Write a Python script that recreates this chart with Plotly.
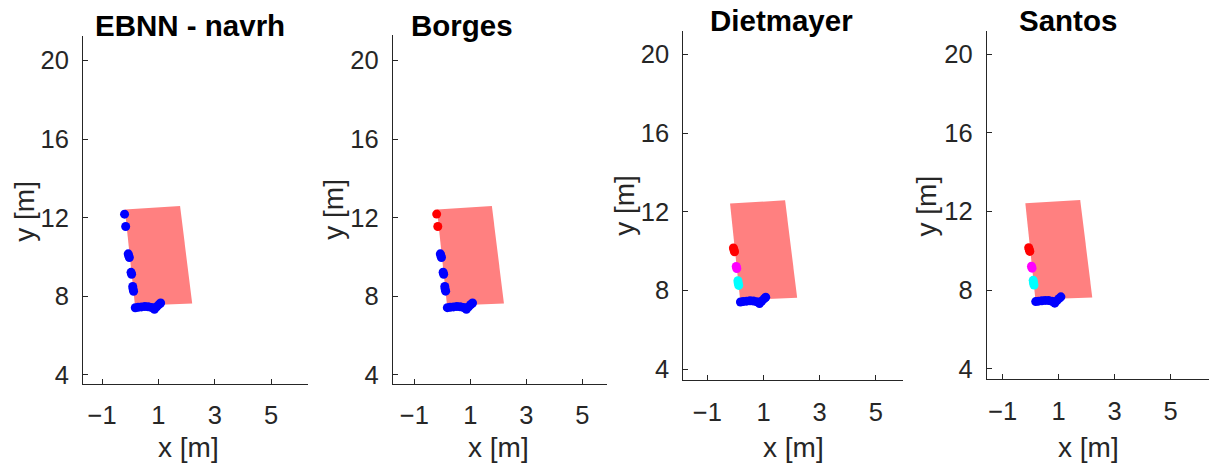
import plotly.graph_objects as go

W, H = 1214, 469

# ---- data ----
titles = ["EBNN - navrh", "Borges", "Dietmayer", "Santos"]
x_ticks = [-1, 1, 3, 5]
y_ticks = [4, 8, 12, 16, 20]

# ground-truth box (corners)
rect_x = [-0.19, 1.77, 2.20, 0.17]
rect_y = [12.42, 12.59, 7.63, 7.52]

# laser scan points
scan_x = [-0.20, -0.16, -0.07, -0.05, -0.03, 0.03, 0.05, 0.09, 0.10, 0.12,
          0.18, 0.28, 0.40, 0.52, 0.64, 0.76, 0.86, 0.94, 1.02, 1.08]
scan_y = [12.18, 11.55, 10.16, 10.06, 9.97, 9.22, 9.12, 8.50, 8.38, 8.26,
          7.42, 7.44, 7.46, 7.48, 7.47, 7.43, 7.34, 7.47, 7.58, 7.66]

# cluster colour of each scan point per method (None = not shown)
ebnn_cluster = ["blue", "blue", "blue", "blue", "blue", "blue", "blue", "blue", "blue", "blue",
                "blue", "blue", "blue", "blue", "blue", "blue", "blue", "blue", "blue", "blue"]
borges_cluster = ["red", "red", "blue", "blue", "blue", "blue", "blue", "blue", "blue", "blue",
                  "blue", "blue", "blue", "blue", "blue", "blue", "blue", "blue", "blue", "blue"]
dietmayer_cluster = [None, None, "red", "red", "red", "magenta", "magenta", "cyan", "cyan", "cyan",
                     "blue", "blue", "blue", "blue", "blue", "blue", "blue", "blue", "blue", "blue"]
santos_cluster = [None, None, "red", "red", "red", "magenta", "magenta", "cyan", "cyan", "cyan",
                  "blue", "blue", "blue", "blue", "blue", "blue", "blue", "blue", "blue", "blue"]
clusters = [ebnn_cluster, borges_cluster, dietmayer_cluster, santos_cluster]

# ---- layout (pixel geometry of each axes box) ----
boxes = [  # left, right, top, bottom (px)
    (83, 308, 36, 388),
    (392.7, 607.3, 35, 387.7),
    (683.3, 903.3, 31.7, 384),
    (986.7, 1209.3, 31, 383.3),
]
x_ranges = [(-1.675, 6.31), (-1.77, 5.89), (-1.855, 5.98), (-1.57, 6.38)]
y_ranges = [(3.547, 21.26), (3.56, 21.31), (3.46, 21.17), (3.47, 21.2)]
title_pos = [(190, 25.5), (461.7, 25.5), (781.7, 21), (1068, 21)]
xlabel_pos = [(188, 452), (498, 452), (793.3, 452), (1088.3, 452)]
ylabel_pos = [(25, 213), (333.3, 211.7), (625, 208), (926.7, 208)]

colmap = {"blue": "#0000FF", "red": "#FF0000", "magenta": "#FF00FF", "cyan": "#00FFFF"}
AX = "#262626"
FONT = "Liberation Sans, Arial, sans-serif"

fig = go.Figure()
annotations = []
for i in range(4):
    xa = "x" if i == 0 else f"x{i+1}"
    ya = "y" if i == 0 else f"y{i+1}"
    fig.add_trace(go.Scatter(
        x=rect_x + [rect_x[0]], y=rect_y + [rect_y[0]],
        fill="toself", fillcolor="#FF8080", mode="lines",
        line=dict(width=0, color="#FF8080"),
        xaxis=xa, yaxis=ya, showlegend=False, hoverinfo="skip"))
    for c in ["blue", "red", "magenta", "cyan"]:
        px = [scan_x[k] for k in range(len(scan_x)) if clusters[i][k] == c]
        py = [scan_y[k] for k in range(len(scan_y)) if clusters[i][k] == c]
        if px:
            fig.add_trace(go.Scatter(
                x=px, y=py, mode="markers",
                marker=dict(size=9, color=colmap[c], line=dict(width=0)),
                xaxis=xa, yaxis=ya, showlegend=False))
    l, r, t, b = boxes[i]
    axis_common = dict(showline=True, linecolor=AX, linewidth=1, ticks="inside",
                       ticklen=5, tickcolor=AX, tickwidth=1, showgrid=False,
                       zeroline=False, mirror=False,
                       tickfont=dict(family=FONT, size=25.5, color=AX))
    fig.layout[("xaxis" if i == 0 else f"xaxis{i+1}")] = dict(
        domain=[l / W, r / W], range=list(x_ranges[i]), tickvals=x_ticks,
        anchor=ya, ticklabelstandoff=9, **axis_common)
    fig.layout[("yaxis" if i == 0 else f"yaxis{i+1}")] = dict(
        domain=[1 - b / H, 1 - t / H], range=list(y_ranges[i]), tickvals=y_ticks,
        anchor=xa, ticklabelstandoff=8, **axis_common)
    annotations.append(dict(text="<b>%s</b>" % titles[i], x=title_pos[i][0] / W,
                            y=1 - title_pos[i][1] / H, xref="paper", yref="paper",
                            xanchor="center", yanchor="middle", showarrow=False,
                            font=dict(family=FONT, size=29.5, color="#000000")))
    annotations.append(dict(text="x [m]", x=xlabel_pos[i][0] / W, y=1 - xlabel_pos[i][1] / H,
                            xref="paper", yref="paper", xanchor="center", yanchor="middle",
                            showarrow=False, font=dict(family=FONT, size=28, color=AX)))
    annotations.append(dict(text="y [m]", x=ylabel_pos[i][0] / W, y=1 - ylabel_pos[i][1] / H,
                            xref="paper", yref="paper", xanchor="center", yanchor="middle",
                            textangle=-90, showarrow=False,
                            font=dict(family=FONT, size=28, color=AX)))

fig.update_layout(width=W, height=H, margin=dict(l=0, r=0, t=0, b=0),
                  paper_bgcolor="white", plot_bgcolor="white",
                  annotations=annotations)
fig.write_html("out.html")
